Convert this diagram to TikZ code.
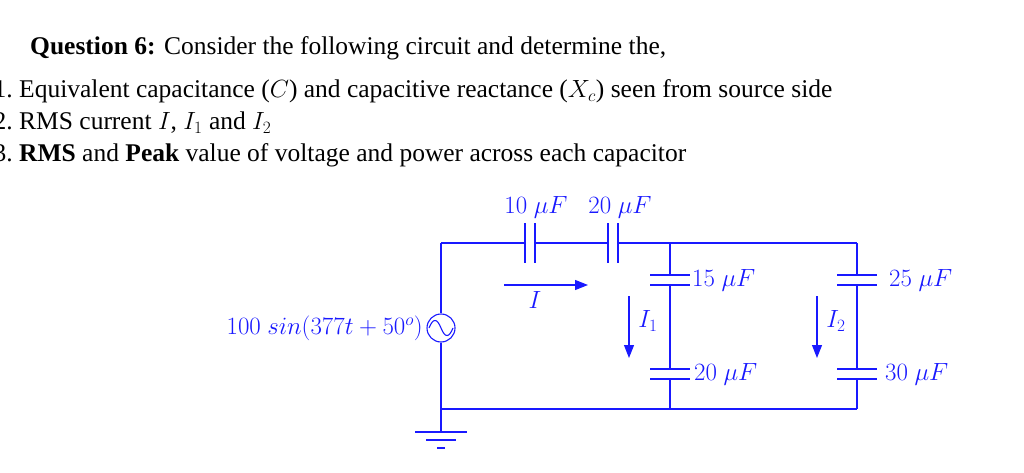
\documentclass[tikz,border=0pt]{standalone}
\usepackage{fontspec}
\setmainfont{Liberation Serif}
\usetikzlibrary{arrows.meta}
\definecolor{cb}{RGB}{25,25,255}
\begin{document}
\begin{tikzpicture}[x=1pt,y=-1pt,
  w/.style={cb,line width=1.1pt},
  lab/.style={cb,font=\fontsize{26}{26}\selectfont,inner sep=0pt},
  txt/.style={font=\fontsize{25.5}{26}\selectfont,inner sep=0pt,anchor=base west},
  num/.style={font=\fontsize{25.5}{26}\selectfont,inner sep=0pt,anchor=base east},
  cur/.style={cb,line width=1.1pt,-{Triangle[length=13pt,width=10pt]}}]
\useasboundingbox (0,0) rectangle (1024,473);
% text
\node[txt] (t0) at (30,55) {\textbf{Question 6:} Consider the following circuit and determine the,};
\node[num] (n1) at (13,98) {1.};
\node[txt] (t1) at (19,98) {Equivalent capacitance ($C$) and capacitive reactance ($X_c$) seen from source side};
\node[num] (n2) at (13,130) {2.};
\node[txt] (t2) at (19,130) {RMS current $I$, $I_1$ and $I_2$};
\node[num] (n3) at (13,162) {3.};
\node[txt] (t3) at (19,162) {\textbf{RMS} and \textbf{Peak} value of voltage and power across each capacitor};
% coordinates
\coordinate (tl) at (441,243);
\coordinate (bl) at (441,409);
\coordinate (tm) at (670,243);
\coordinate (bm) at (670,409);
\coordinate (tr) at (857,243);
\coordinate (br) at (857,409);
% source
\node[w,draw,circle,minimum size=28pt,inner sep=0pt] (src) at (441,328) {};
\draw[w] (429,328) .. controls (433,318) and (437,318) .. (441,328) .. controls (445,338) and (449,338) .. (453,328);
\draw[w] (tl) -- (src.north);
\draw[w] (src.south) -- (bl);
\node[lab,anchor=east] (vs) at (423,328) {$100\ sin(377t+50^o)$};
% ground
\coordinate (g) at (441,432);
\draw[w] (bl) -- (g);
\draw[w] (415,432) -- (467,432);
\draw[w] (426,440) -- (456,440);
\draw[w] (437,448) -- (445,448);
% top series caps
\draw[w] (tl) -- (525,243) (535,243) -- (608,243) (618,243) -- (tm) -- (tr);
\draw[w] (525,223) -- (525,263) (535,223) -- (535,263);
\draw[w] (608,223) -- (608,263) (618,223) -- (618,263);
\node[lab] (c10) at (536,207) {$10\ \mu F$};
\node[lab] (c20) at (620,207) {$20\ \mu F$};
% bottom wire
\draw[w] (bl) -- (bm) -- (br);
% middle branch
\draw[w] (tm) -- (670,275) (670,285) -- (670,369) (670,379) -- (bm);
\draw[w] (650,275) -- (690,275) (650,285) -- (690,285);
\draw[w] (650,369) -- (690,369) (650,379) -- (690,379);
\node[lab,anchor=west] (c15) at (692,280) {$15\ \mu F$};
\node[lab,anchor=west] (c20b) at (694,374) {$20\ \mu F$};
% right branch
\draw[w] (tr) -- (857,275) (857,285) -- (857,369) (857,379) -- (br);
\draw[w] (837,275) -- (877,275) (837,285) -- (877,285);
\draw[w] (837,369) -- (877,369) (837,379) -- (877,379);
\node[lab,anchor=west] (c25) at (889,280) {$25\ \mu F$};
\node[lab,anchor=west] (c30) at (885,374) {$30\ \mu F$};
% currents
\coordinate (ia) at (504,285); \coordinate (ib) at (588,285);
\draw[cur] (ia) -- (ib);
\node[lab] (il) at (535,300) {$I$};
\coordinate (i1a) at (629,296); \coordinate (i1b) at (629,358);
\draw[cur] (i1a) -- (i1b);
\node[lab] (i1l) at (648,321) {$I_1$};
\coordinate (i2a) at (817,296); \coordinate (i2b) at (817,358);
\draw[cur] (i2a) -- (i2b);
\node[lab] (i2l) at (836,321) {$I_2$};
\end{tikzpicture}
\end{document}
